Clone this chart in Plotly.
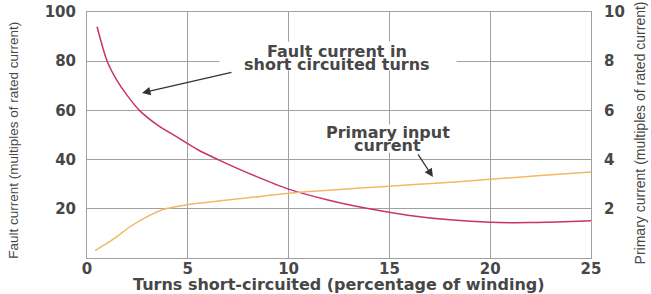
import plotly.graph_objects as go

# Data
fault_x = [0.5, 1, 1.5, 2, 2.6, 3.5, 4.5, 5.5, 6.5, 8, 10, 12, 14, 16, 18, 20, 22, 24, 25]
fault_y = [94, 80, 72, 66, 60, 54, 49, 44, 40, 34.5, 28, 23.5, 20, 17.3, 15.5, 14.5, 14.4, 14.8, 15.1]

primary_x = [0.4, 1, 1.5, 2.1, 2.8, 3.8, 5, 6, 8, 10, 12.5, 15, 17.5, 20, 22.5, 25]
primary_y = [0.3, 0.6, 0.88, 1.25, 1.6, 1.98, 2.17, 2.27, 2.45, 2.63, 2.78, 2.92, 3.05, 3.2, 3.35, 3.5]

x_ticks = [0, 5, 10, 15, 20, 25]
y_left_ticks = [20, 40, 60, 80, 100]
y_right_ticks = [2, 4, 6, 8, 10]

TXT = "#474747"
TICK_FONT = dict(family="DejaVu Sans", size=15, color=TXT, weight="bold")
ANN_FONT = dict(family="DejaVu Sans", size=16, color=TXT, weight="bold")
NARROW = "Liberation Sans Narrow, Arial Narrow, sans-serif"

fig = go.Figure()
fig.add_trace(go.Scatter(x=fault_x, y=fault_y, mode="lines",
                         line=dict(color="#c8326e", width=1.5, shape="spline", smoothing=0.8),
                         showlegend=False, yaxis="y", hoverinfo="skip"))
fig.add_trace(go.Scatter(x=primary_x, y=primary_y, mode="lines",
                         line=dict(color="#f2b866", width=1.5, shape="spline", smoothing=0.8),
                         showlegend=False, yaxis="y2", hoverinfo="skip"))

# white boxes behind the two callout labels (they break the gridlines)
for bx, by, bw, bh in [(12.45, 82.1, 236, 28), (14.93, 48.4, 146, 27)]:
    fig.add_annotation(x=bx, y=by, xref="x", yref="y", showarrow=False, text=" ",
                       width=bw, height=bh, bgcolor="white", borderpad=0,
                       xanchor="center", yanchor="middle")

# arrows
fig.add_annotation(x=2.73, y=67.1, ax=7.24, ay=75.6, xref="x", yref="y", axref="x", ayref="y",
                   text="", showarrow=True, arrowhead=2, arrowsize=1.3, arrowwidth=1.3,
                   arrowcolor="#333333")
fig.add_annotation(x=17.16, y=32.9, ax=16.37, ay=42.7, xref="x", yref="y", axref="x", ayref="y",
                   text="", showarrow=True, arrowhead=2, arrowsize=1.3, arrowwidth=1.3,
                   arrowcolor="#333333")

# labels (one annotation per line for tight line spacing)
labels = [("Fault current in", 12.4, 84.0), ("short circuited turns", 12.4, 78.8),
          ("Primary input", 14.93, 51.2), ("current", 14.93, 45.8)]
for txt, lx, ly in labels:
    fig.add_annotation(x=lx, y=ly, xref="x", yref="y", showarrow=False, text=txt,
                       borderpad=0, font=ANN_FONT, xanchor="center", yanchor="middle")

# axis titles
fig.add_annotation(x=-0.145, y=0.48, xref="paper", yref="paper", showarrow=False,
                   text="Fault current (multiples of rated current)", textangle=-90,
                   font=dict(family=NARROW, size=13.5, color=TXT),
                   xanchor="center", yanchor="middle")
fig.add_annotation(x=1.097, y=0.51, xref="paper", yref="paper", showarrow=False,
                   text="Primary current (multiples of rated current)", textangle=-90,
                   font=dict(family=NARROW, size=14, color=TXT),
                   xanchor="center", yanchor="middle")
fig.add_annotation(x=0.5, y=-0.108, xref="paper", yref="paper", showarrow=False,
                   text="Turns short-circuited (percentage of winding)",
                   font=dict(family="DejaVu Sans", size=16, color=TXT, weight="bold"),
                   xanchor="center", yanchor="middle")

fig.update_layout(
    width=651, height=294,
    margin=dict(l=87, r=60, t=12, b=36),
    paper_bgcolor="white", plot_bgcolor="white",
    xaxis=dict(range=[0, 25], tickvals=x_ticks, showgrid=True, gridcolor="#a0a0a0",
               gridwidth=1, showline=True, linecolor="#a0a0a0", mirror=True,
               zeroline=False, ticks="", tickfont=TICK_FONT, automargin=False,
               ticklabelstandoff=-3),
    yaxis=dict(range=[0, 100], tickvals=y_left_ticks, showgrid=True, gridcolor="#a0a0a0",
               gridwidth=1, showline=True, linecolor="#a0a0a0", mirror=True,
               zeroline=False, ticks="", tickfont=TICK_FONT, automargin=False,
               ticklabelstandoff=7),
    yaxis2=dict(range=[0, 10], tickvals=y_right_ticks, overlaying="y", side="right",
                showgrid=False, showline=False, zeroline=False, ticks="",
                tickfont=TICK_FONT, automargin=False, ticklabelstandoff=12),
)

# remove the page's default 8px body margin so the figure sits at the window origin
fig.write_html("out.html", config={"displayModeBar": False},
               post_script="document.body.style.margin='0';")
